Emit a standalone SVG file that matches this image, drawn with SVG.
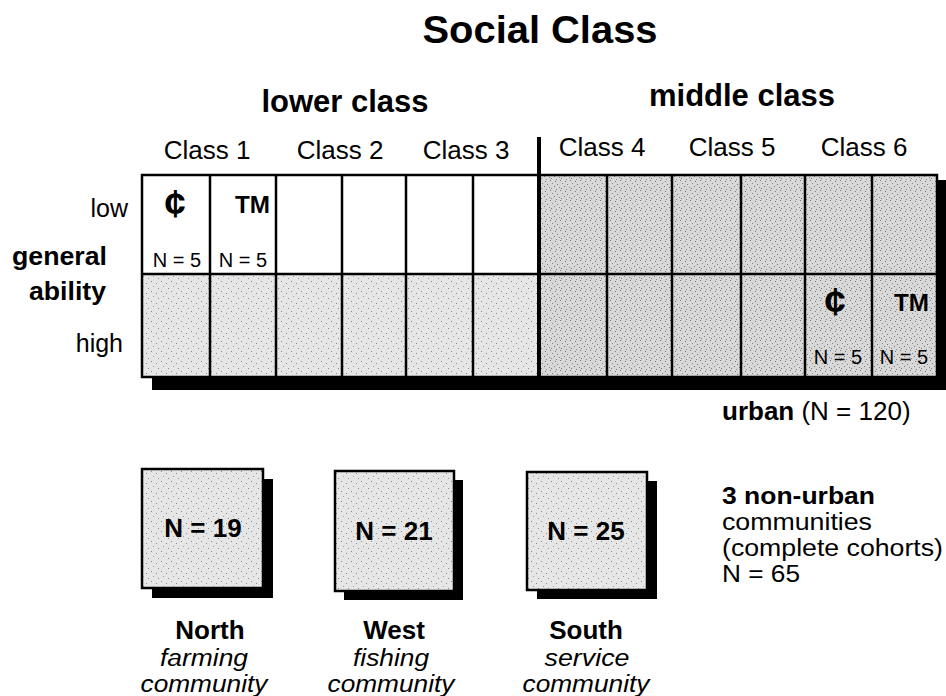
<svg xmlns="http://www.w3.org/2000/svg" width="946" height="696" viewBox="0 0 946 696">
<style>
text{font-family:"Liberation Sans",Arial,Helvetica,sans-serif;fill:#000}
.b{font-weight:bold}
.i{font-style:italic;font-size:23px;text-anchor:middle}
.cls{font-size:26px;text-anchor:middle}
.t26{font-size:26px}
.t23{font-size:23px}
.n5{font-size:20px}
.cent{font-size:38px;font-weight:bold;text-anchor:middle}
.tm{font-size:24px;font-weight:bold;text-anchor:end}
.ln{stroke:#000;stroke-width:2.5;fill:none}
.box{stroke:#000;stroke-width:2.5;fill:url(#pl)}
</style>
<defs>
<pattern id="pl" width="10" height="10" patternUnits="userSpaceOnUse">
<rect width="10" height="10" fill="#e6e6e6"/>
<rect x="1" y="1" width="1" height="1" fill="#8a8a8a"/>
<rect x="6" y="3" width="1" height="1" fill="#8a8a8a"/>
<rect x="3" y="6" width="1" height="1" fill="#a0a0a0"/>
<rect x="8" y="8" width="1" height="1" fill="#8a8a8a"/>
</pattern>
<pattern id="pm" width="10" height="10" patternUnits="userSpaceOnUse">
<rect width="10" height="10" fill="#d8d8d8"/>
<rect x="0" y="0" width="1" height="1" fill="#777"/>
<rect x="5" y="1" width="1" height="1" fill="#777"/>
<rect x="2" y="3" width="1" height="1" fill="#888"/>
<rect x="7" y="4" width="1" height="1" fill="#777"/>
<rect x="4" y="6" width="1" height="1" fill="#777"/>
<rect x="9" y="7" width="1" height="1" fill="#888"/>
<rect x="1" y="8" width="1" height="1" fill="#777"/>
<rect x="6" y="9" width="1" height="1" fill="#888"/>
</pattern>
</defs>

<g id="title">
<text class="b" x="540" y="43" font-size="38" text-anchor="middle" textLength="235" lengthAdjust="spacingAndGlyphs">Social Class</text>
</g>

<g id="class-headers">
<text class="b" x="345" y="112" font-size="31" text-anchor="middle">lower class</text>
<text class="b" x="742" y="106" font-size="31" text-anchor="middle">middle class</text>
<text class="cls" x="207" y="159">Class 1</text>
<text class="cls" x="340" y="159">Class 2</text>
<text class="cls" x="466" y="159">Class 3</text>
<text class="cls" x="602" y="156">Class 4</text>
<text class="cls" x="732" y="156">Class 5</text>
<text class="cls" x="864" y="156">Class 6</text>
</g>

<g id="row-labels">
<text x="128" y="217" font-size="25" text-anchor="end">low</text>
<text class="b" x="107" y="265" font-size="25" text-anchor="end" textLength="95" lengthAdjust="spacingAndGlyphs">general</text>
<text class="b" x="106" y="300" font-size="25" text-anchor="end" textLength="77" lengthAdjust="spacingAndGlyphs">ability</text>
<text x="123" y="352" font-size="25" text-anchor="end">high</text>
</g>

<g id="urban-grid">
<rect x="152" y="180" width="794" height="210" fill="#000"/>
<rect x="142" y="175" width="397" height="99" fill="#fff"/>
<rect x="142" y="274" width="397" height="103" fill="url(#pl)"/>
<rect x="539" y="175" width="398" height="202" fill="url(#pm)"/>
<path class="ln" d="M210 175V377M276 175V377M342 175V377M406 175V377M473 175V377M607 175V377M672 175V377M741 175V377M805 175V377M872 175V377M142 274H937"/>
<rect class="ln" x="142" y="175" width="795" height="202" stroke-width="3"/>
<line x1="539" y1="137" x2="539" y2="377" stroke="#000" stroke-width="4"/>
<text class="cent" x="175" y="217">¢</text>
<text class="tm" x="270" y="213" textLength="35" lengthAdjust="spacingAndGlyphs">TM</text>
<text class="n5" x="177" y="267" text-anchor="middle">N = 5</text>
<text class="n5" x="243" y="267" text-anchor="middle">N = 5</text>
<text class="cent" x="835" y="315">¢</text>
<text class="tm" x="929" y="311" textLength="35" lengthAdjust="spacingAndGlyphs">TM</text>
<text class="n5" x="838" y="364" text-anchor="middle">N = 5</text>
<text class="n5" x="904" y="364" text-anchor="middle">N = 5</text>
</g>

<g id="urban-label">
<text class="t26" x="722" y="420"><tspan class="b">urban</tspan> (N = 120)</text>
</g>

<g id="nonurban-label">
<text class="t23 b" x="722" y="504" textLength="153" lengthAdjust="spacingAndGlyphs">3 non-urban</text>
<text class="t23" x="722" y="530" textLength="150" lengthAdjust="spacingAndGlyphs">communities</text>
<text class="t23" x="722" y="556" textLength="221" lengthAdjust="spacingAndGlyphs">(complete cohorts)</text>
<text class="t23" x="722" y="582" textLength="78" lengthAdjust="spacingAndGlyphs">N = 65</text>
</g>

<g id="north">
<rect x="152" y="479" width="121" height="119" fill="#000"/>
<rect class="box" x="142" y="469" width="121" height="119"/>
<text class="t26 b" x="203" y="537" text-anchor="middle">N = 19</text>
<text class="t26 b" x="210" y="639" text-anchor="middle">North</text>
<text class="i" x="204" y="665.5" textLength="88" lengthAdjust="spacingAndGlyphs">farming</text>
<text class="i" x="204" y="691.5" textLength="127" lengthAdjust="spacingAndGlyphs">community</text>
</g>

<g id="west">
<rect x="344" y="480" width="119" height="120" fill="#000"/>
<rect class="box" x="335" y="471" width="119" height="120"/>
<text class="t26 b" x="394" y="540" text-anchor="middle">N = 21</text>
<text class="t26 b" x="394" y="639" text-anchor="middle">West</text>
<text class="i" x="391" y="665.5" textLength="76" lengthAdjust="spacingAndGlyphs">fishing</text>
<text class="i" x="391" y="691.5" textLength="127" lengthAdjust="spacingAndGlyphs">community</text>
</g>

<g id="south">
<rect x="537" y="481" width="120" height="118" fill="#000"/>
<rect class="box" x="527" y="472" width="120" height="118"/>
<text class="t26 b" x="586" y="540" text-anchor="middle">N = 25</text>
<text class="t26 b" x="586" y="639" text-anchor="middle">South</text>
<text class="i" x="587" y="665.5" textLength="85" lengthAdjust="spacingAndGlyphs">service</text>
<text class="i" x="586" y="691.5" textLength="127" lengthAdjust="spacingAndGlyphs">community</text>
</g>
</svg>
